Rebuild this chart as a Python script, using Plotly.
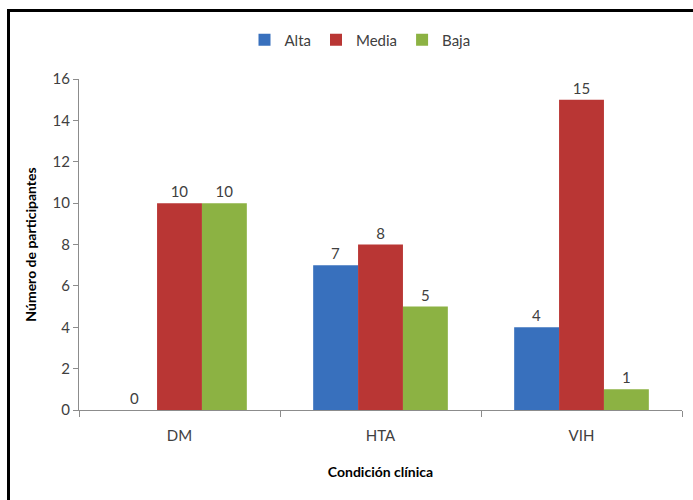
import plotly.graph_objects as go

categories = ["DM", "HTA", "VIH"]
alta = [0, 7, 4]
media = [10, 8, 15]
baja = [10, 5, 1]
series_names = ["Alta", "Media", "Baja"]
y_ticks = [0, 2, 4, 6, 8, 10, 12, 14, 16]

colors = ["#3870bd", "#b93634", "#8cb243"]
FONT = "Lato"
TXT = "#404040"

W, H = 693, 500
# outer frame area (top-left corner of the border)
FL, FT = 10, 12
fw, fh = W - FL, H - FT

def fx(p):
    return (p - FL) / fw

def fy(p):
    return (H - p) / fh

fig = go.Figure()
for name, vals, col in zip(series_names, [alta, media, baja], colors):
    fig.add_trace(go.Bar(
        x=categories, y=vals, name=name,
        marker=dict(color=col, line=dict(width=0)),
        text=[str(v) for v in vals], textposition="outside",
        textfont=dict(family=FONT, size=15, color=TXT),
        cliponaxis=False,
    ))

# empty trace so the frame axes exist
fig.add_trace(go.Scatter(x=[None], y=[None], xaxis="x2", yaxis="y2",
                         showlegend=False, hoverinfo="skip"))

frame_axis = dict(showline=True, linecolor="black", linewidth=2.5,
                  showticklabels=False, ticks="", showgrid=False,
                  zeroline=False, fixedrange=True, automargin=False,
                  range=[0, 1], domain=[0, 1])

fig.update_layout(
    width=W, height=H,
    margin=dict(l=FL, r=0, t=FT, b=0),
    paper_bgcolor="white", plot_bgcolor="rgba(0,0,0,0)",
    barmode="group", bargap=0.33, bargroupgap=0,
    font=dict(family=FONT, size=15, color=TXT),
    showlegend=True,
    legend=dict(orientation="h", x=fx(360), xanchor="center",
                y=fy(40), yanchor="middle",
                font=dict(family=FONT, size=15, color=TXT),
                itemwidth=30, traceorder="normal"),
    xaxis=dict(
        domain=[fx(79), fx(682)], anchor="y",
        showline=True, linecolor="#8c8c8c", linewidth=1,
        ticks="outside", tickson="boundaries", ticklen=6, tickcolor="#8c8c8c",
        ticklabelstandoff=12, automargin=False,
        tickfont=dict(family=FONT, size=15, color=TXT),
        title=dict(text="<b>Condición clínica</b>", standoff=24,
                   font=dict(family=FONT, size=14, color="black")),
        showgrid=False, fixedrange=True,
    ),
    yaxis=dict(
        domain=[fy(410), fy(79)], anchor="x",
        range=[0, 16], tickvals=y_ticks,
        showline=True, linecolor="#8c8c8c", linewidth=1,
        ticks="outside", ticklen=5, tickcolor="#8c8c8c", automargin=False,
        tickfont=dict(family=FONT, size=15, color=TXT),
        title=dict(text="<b>Número de participantes</b>", standoff=12,
                   font=dict(family=FONT, size=14, color="black")),
        showgrid=False, zeroline=False, fixedrange=True,
    ),
    xaxis2=dict(frame_axis, anchor="y2", side="top"),
    yaxis2=dict(frame_axis, anchor="x2", side="left"),
)

fig.write_html("out.html")
